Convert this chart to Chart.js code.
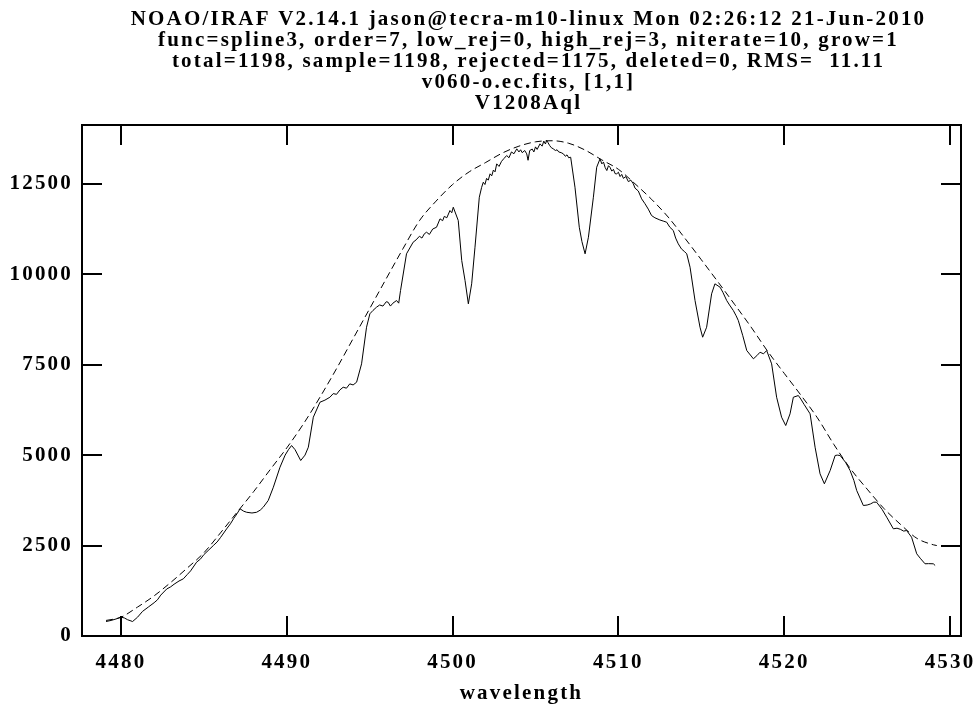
<!DOCTYPE html>
<html>
<head>
<meta charset="utf-8">
<script src="https://cdn.jsdelivr.net/npm/chart.js@4/dist/chart.umd.min.js"></script>
<style>
html,body{margin:0;padding:0;background:#fff;}
#c{display:block;}
</style>
</head>
<body>
<canvas id="c" width="973" height="705"></canvas>
<script>
// ---------- chart text ----------
const titleLines = [
  'NOAO/IRAF V2.14.1 jason@tecra-m10-linux Mon 02:26:12 21-Jun-2010',
  'func=spline3, order=7, low_rej=0, high_rej=3, niterate=10, grow=1',
  'total=1198, sample=1198, rejected=1175, deleted=0, RMS=  11.11',
  'v060-o.ec.fits, [1,1]',
  'V1208Aql'
];
const xAxisLabel = 'wavelength';
const xTickValues = [4480, 4490, 4500, 4510, 4520, 4530];
const yTickValues = [0, 2500, 5000, 7500, 10000, 12500];

const specWave = [
  4479.1, 4479.4, 4479.7, 4480.0, 4480.2, 4480.4, 4480.7, 4481.0, 4481.3, 4481.65,
  4482.0, 4482.2, 4482.4, 4482.76, 4483.0, 4483.2, 4483.5, 4483.76, 4484.0, 4484.2,
  4484.56, 4484.8, 4485.0, 4485.3, 4485.57, 4485.8, 4486.0, 4486.37, 4486.6, 4486.8,
  4487.0, 4487.18, 4487.4, 4487.58, 4487.9, 4488.18, 4488.4, 4488.58, 4488.88, 4489.19,
  4489.59, 4489.9, 4490.1, 4490.29, 4490.5, 4490.84, 4491.1, 4491.3, 4491.6, 4492.0,
  4492.3, 4492.6, 4492.8, 4493.0, 4493.2, 4493.4, 4493.6, 4493.8, 4494.0, 4494.21,
  4494.51, 4494.81, 4495.01, 4495.2, 4495.41, 4495.6, 4495.8, 4496.0, 4496.11, 4496.25,
  4496.4, 4496.62, 4496.75, 4496.86, 4497.22, 4497.62, 4497.8, 4498.0, 4498.15, 4498.3,
  4498.43, 4498.6, 4498.8, 4499.03, 4499.24, 4499.4, 4499.5, 4499.65, 4499.84, 4499.95,
  4500.04, 4500.34, 4500.55, 4500.75, 4500.95, 4501.15, 4501.35, 4501.61, 4501.75, 4501.85,
  4501.95, 4502.05, 4502.15, 4502.26, 4502.36, 4502.46, 4502.56, 4502.66, 4502.8, 4502.95,
  4503.1, 4503.26, 4503.4, 4503.55, 4503.7, 4503.87, 4504.0, 4504.1, 4504.2, 4504.35,
  4504.47, 4504.55, 4504.65, 4504.8, 4504.9, 4505.0, 4505.1, 4505.27, 4505.4, 4505.5,
  4505.6, 4505.67, 4505.75, 4505.85, 4505.95, 4506.07, 4506.2, 4506.3, 4506.4, 4506.55,
  4506.68, 4506.8, 4506.9, 4507.0, 4507.12, 4507.38, 4507.64, 4507.8, 4507.99, 4508.19,
  4508.49, 4508.69, 4508.89, 4509.0, 4509.1, 4509.2, 4509.3, 4509.4, 4509.49, 4509.6,
  4509.7, 4509.8, 4509.9, 4510.0, 4510.1, 4510.2, 4510.3, 4510.45, 4510.6, 4510.75,
  4510.9, 4511.0, 4511.2, 4511.4, 4511.6, 4511.8, 4512.0, 4512.2, 4512.5, 4512.7,
  4512.91, 4513.1, 4513.31, 4513.45, 4513.61, 4513.8, 4514.0, 4514.12, 4514.32, 4514.62,
  4514.92, 4515.08, 4515.32, 4515.62, 4515.82, 4516.13, 4516.3, 4516.53, 4516.7, 4516.93,
  4517.1, 4517.23, 4517.5, 4517.74, 4518.14, 4518.35, 4518.54, 4518.75, 4518.94, 4519.24,
  4519.54, 4519.84, 4520.09, 4520.35, 4520.55, 4520.85, 4521.0, 4521.2, 4521.56, 4521.86,
  4522.16, 4522.42, 4522.77, 4523.07, 4523.2, 4523.37, 4523.7, 4523.97, 4524.2, 4524.37,
  4524.77, 4525.0, 4525.2, 4525.4, 4525.57, 4525.9, 4526.18, 4526.58, 4526.8, 4527.0,
  4527.2, 4527.38, 4527.68, 4527.99, 4528.2, 4528.49, 4528.7, 4528.99, 4529.1
];
const specFlux = [
  400, 430, 470, 520, 500, 450, 400, 520, 680, 800,
  920, 1000, 1130, 1300, 1360, 1430, 1520, 1580, 1700, 1800,
  2040, 2130, 2250, 2380, 2500, 2600, 2720, 2960, 3100, 3250,
  3380, 3516, 3450, 3420, 3400, 3420, 3480, 3560, 3745, 4113,
  4666, 5000, 5150, 5265, 5150, 4851, 5000, 5219, 6048, 6462,
  6520, 6600, 6700, 6680, 6800, 6877, 6850, 6970, 6940, 7015,
  7523, 8535, 8906, 9000, 9088, 9150, 9120, 9240, 9226, 9120,
  9200, 9273, 9200, 9550, 10564, 10885, 10950, 11050, 11000, 11120,
  11161, 11100, 11250, 11299, 11531, 11480, 11600, 11560, 11761, 11700,
  11852, 11485, 10379, 9826, 9182, 9735, 10747, 12129, 12400, 12543,
  12480, 12650, 12600, 12775, 12720, 12880, 12830, 13051, 12980, 13120,
  13200, 13281, 13220, 13380, 13330, 13466, 13380, 13440, 13360, 13420,
  13328, 13150, 13420, 13460, 13380, 13520, 13450, 13604, 13540, 13680,
  13600, 13700, 13640, 13560, 13500, 13466, 13420, 13440, 13380, 13360,
  13328, 13260, 13300, 13220, 13234, 12405, 11299, 10900, 10564, 11023,
  12129, 12958, 13189, 13050, 13100, 12950, 12866, 13000, 12958, 12850,
  12900, 12780, 12775, 12820, 12700, 12760, 12650, 12700, 12560, 12600,
  12499, 12380, 12300, 12084, 11950, 11800, 11622, 11560, 11500, 11470,
  11438, 11300, 11208, 11000, 10840, 10700, 10620, 10564, 10194, 9273,
  8535, 8259, 8535, 9458, 9735, 9641, 9500, 9273, 9150, 8997,
  8850, 8721, 8300, 7891, 7662, 7750, 7844, 7800, 7891, 7523,
  6600, 6048, 5818, 6141, 6600, 6647, 6550, 6400, 6141, 5218,
  4483, 4207, 4575, 4989, 5000, 4989, 4800, 4575, 4300, 4022,
  3607, 3620, 3650, 3700, 3698, 3500, 3284, 2963, 2980, 2950,
  2900, 2916, 2731, 2272, 2150, 1996, 2000, 1996, 1950
];

// ---------- spline3 continuum fit ----------
const fitWave = [
  4479.1, 4480, 4481, 4482, 4483, 4484, 4485, 4486, 4487, 4488,
  4489, 4490, 4491, 4492, 4493, 4494, 4495, 4496, 4497, 4498,
  4499, 4500, 4501, 4502, 4503, 4504, 4505, 4506, 4507, 4508,
  4509, 4510, 4511, 4512, 4513, 4514, 4515, 4516, 4517, 4518,
  4519, 4520, 4521, 4522, 4523, 4524, 4525, 4526, 4527, 4528,
  4529, 4529.2
];
const fitFlux = [
  430, 520, 800, 1110, 1480, 1880, 2300, 2850, 3420, 3990,
  4600, 5200, 5860, 6600, 7390, 8220, 9050, 9880, 10700, 11480,
  12020, 12480, 12830, 13090, 13350, 13540, 13660, 13690, 13620, 13430,
  13160, 12900, 12500, 12070, 11580, 11000, 10400, 9790, 9170, 8540,
  7870, 7260, 6660, 6030, 5290, 4620, 4060, 3530, 3090, 2700,
  2520, 2500
];

// ---------- styling ----------
const FONT_FAMILY = "'Liberation Serif', 'DejaVu Serif', serif";
const LETTER_SPACING = '2.2px';

const spacingPlugin = {
  id: 'spacing',
  beforeUpdate(chart) { chart.ctx.letterSpacing = LETTER_SPACING; },
  beforeLayout(chart) { chart.ctx.letterSpacing = LETTER_SPACING; },
  beforeDraw(chart) { chart.ctx.letterSpacing = LETTER_SPACING; }
};

// multi-line heading, centred over the plot viewport (IRAF style)
const headingPlugin = {
  id: 'heading',
  afterDraw(chart) {
    const ctx = chart.ctx;
    ctx.save();
    ctx.letterSpacing = LETTER_SPACING;
    ctx.fillStyle = '#000';
    ctx.font = 'bold 21px ' + FONT_FAMILY;
    ctx.textAlign = 'center';
    ctx.textBaseline = 'middle';
    const cx = (chart.chartArea.left + chart.width) / 2 + 1;
    titleLines.forEach((t, i) => ctx.fillText(t, cx, 20 + i * 21));
    ctx.restore();
  }
};

const framePlugin = {
  id: 'frame',
  afterDraw(chart) {
    const {ctx, chartArea: a, scales: {x, y}} = chart;
    ctx.save();
    ctx.strokeStyle = '#000';
    ctx.lineWidth = 2;
    ctx.strokeRect(a.left, a.top, a.right - a.left, a.bottom - a.top);
    ctx.beginPath();
    const L = 20;
    xTickValues.forEach(v => {
      const px = Math.round(x.getPixelForValue(v));
      ctx.moveTo(px, a.bottom); ctx.lineTo(px, a.bottom - L);
      ctx.moveTo(px, a.top); ctx.lineTo(px, a.top + L);
    });
    yTickValues.forEach(v => {
      const py = Math.round(y.getPixelForValue(v));
      ctx.moveTo(a.left, py); ctx.lineTo(a.left + L, py);
      ctx.moveTo(a.right, py); ctx.lineTo(a.right - L, py);
    });
    ctx.stroke();
    ctx.restore();
  }
};

Chart.defaults.color = '#000';
Chart.defaults.font.family = FONT_FAMILY;

const tickFont = {family: FONT_FAMILY, size: 21, weight: 'bold', lineHeight: 1};

new Chart(document.getElementById('c'), {
  type: 'line',
  data: {
    datasets: [
      {
        label: 'spectrum',
        data: specWave.map((w, i) => ({x: w, y: specFlux[i]})),
        borderColor: '#000',
        borderWidth: 1,
        pointRadius: 0,
        tension: 0,
        fill: false
      },
      {
        label: 'fit',
        data: fitWave.map((w, i) => ({x: w, y: fitFlux[i]})),
        borderColor: '#000',
        borderWidth: 1,
        borderDash: [7, 4],
        pointRadius: 0,
        cubicInterpolationMode: 'monotone',
        fill: false
      }
    ]
  },
  options: {
    responsive: false,
    animation: false,
    devicePixelRatio: 1,
    events: [],
    layout: {padding: {left: 0, right: 12, top: 125, bottom: 0}},
    plugins: {
      legend: {display: false},
      tooltip: {enabled: false},
      title: {display: false}
    },
    scales: {
      x: {
        type: 'linear',
        min: 4477.65,
        max: 4530.66,
        grid: {display: false, drawTicks: false},
        border: {display: false},
        ticks: {
          font: tickFont, color: '#000', padding: 16,
          maxRotation: 0, autoSkip: false,
          callback: v => String(v)
        },
        title: {
          display: true, text: xAxisLabel, color: '#000',
          font: {family: FONT_FAMILY, size: 21, weight: 'bold', lineHeight: 1},
          padding: {top: 0, bottom: 1}
        },
        afterBuildTicks: s => { s.ticks = xTickValues.map(v => ({value: v})); },
        afterFit: s => { s.height = 69; s.paddingLeft = 0; s.paddingRight = 0; }
      },
      y: {
        type: 'linear',
        min: 0,
        max: 14125,
        grid: {display: false, drawTicks: false},
        border: {display: false},
        ticks: {
          font: tickFont, color: '#000', padding: 9,
          autoSkip: false,
          callback: v => String(v)
        },
        afterBuildTicks: s => { s.ticks = yTickValues.map(v => ({value: v})); },
        afterFit: s => { s.width = 82; s.paddingTop = 0; s.paddingBottom = 0; }
      }
    }
  },
  plugins: [spacingPlugin, framePlugin, headingPlugin]
});
</script>
</body>
</html>
